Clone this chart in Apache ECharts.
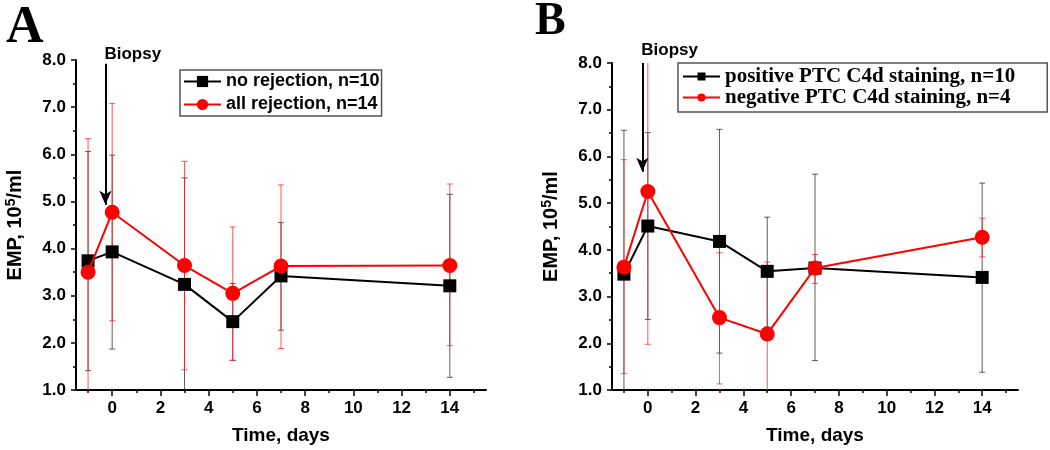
<!DOCTYPE html>
<html>
<head>
<meta charset="utf-8">
<script src="https://cdn.jsdelivr.net/npm/echarts@6/dist/echarts.min.js"></script>
<style>
html, body { margin: 0; padding: 0; background: #fff; }
#chart { width: 1050px; height: 450px; }
</style>
</head>
<body>
<div id="chart"></div>
<script>
// sampling days
const days = [-1, 0, 3, 5, 7, 14];
const majorDays = [0, 2, 4, 6, 8, 10, 12, 14];
const minorDays = [-1, 1, 3, 5, 7, 9, 11, 13, 15];

// panel A
const aNoRej = [3.74, 3.93, 3.24, 2.45, 3.42, 3.21];
const aNoRejLow = [1.41, 1.87, 0.98, 1.63, 2.27, 1.27];
const aNoRejHigh = [6.06, 5.98, 5.50, 3.26, 4.55, 5.15];
const aAllRej = [3.50, 4.77, 3.64, 3.05, 3.63, 3.64];
const aAllRejLow = [0.67, 2.47, 1.43, 1.63, 1.88, 1.94];
const aAllRejHigh = [6.33, 7.08, 5.85, 4.46, 5.35, 5.37];

// panel B
const bPos = [3.48, 4.51, 4.18, 3.54, 3.61, 3.41];
const bPosLow = [0.40, 2.51, 1.79, 2.35, 1.63, 1.38];
const bPosHigh = [6.56, 6.51, 6.58, 4.70, 5.62, 5.43];
const bNeg = [3.63, 5.25, 2.55, 2.20, 3.61, 4.27];
const bNegLow = [1.35, 1.98, 1.13, 0.66, 3.28, 3.85];
const bNegHigh = [5.93, 8.52, 3.94, 3.74, 3.90, 4.68];

// biopsy arrow: [x, top, bottom] per panel
const biopsyA = [-0.28, 7.92, 4.93];
const biopsyB = [-0.23, 8.0, 5.67];

const sans = 'Liberation Sans, Arial, sans-serif';
const serif = 'Liberation Serif, Times New Roman, serif';

function pairs(ys) { return days.map((d, i) => [d, ys[i]]); }
function bars(lo, hi) { return days.map((d, i) => [d, lo[i], hi[i]]); }

function errBar(color) {
  return function (params, api) {
    const x = api.value(0);
    const lo = api.coord([x, api.value(1)]);
    const hi = api.coord([x, api.value(2)]);
    const cap = 3;
    const style = { stroke: color, lineWidth: 1 };
    return {
      type: 'group',
      children: [
        { type: 'line', shape: { x1: lo[0], y1: lo[1], x2: hi[0], y2: hi[1] }, style: style },
        { type: 'line', shape: { x1: lo[0] - cap, y1: lo[1], x2: lo[0] + cap, y2: lo[1] }, style: style },
        { type: 'line', shape: { x1: hi[0] - cap, y1: hi[1], x2: hi[0] + cap, y2: hi[1] }, style: style }
      ]
    };
  };
}

function xAxes(grid) {
  return [
    {
      type: 'value', gridIndex: grid, position: 'bottom', min: -1.5, max: 15.5,
      axisLine: { onZero: false, lineStyle: { color: '#000', width: 2 } },
      axisTick: { customValues: majorDays, length: 6, lineStyle: { color: '#000', width: 1.5 } },
      axisLabel: { customValues: majorDays, color: '#000', fontWeight: 'bold', fontSize: 17, fontFamily: sans, margin: 10 },
      splitLine: { show: false },
      name: 'Time, days', nameLocation: 'middle', nameGap: 36,
      nameTextStyle: { color: '#000', fontWeight: 'bold', fontSize: 19, fontFamily: sans }
    },
    {
      type: 'value', gridIndex: grid, position: 'bottom', min: -1.5, max: 15.5,
      axisLine: { show: false, onZero: false },
      axisTick: { customValues: minorDays, length: 3, lineStyle: { color: '#000', width: 1.5 } },
      axisLabel: { show: false },
      splitLine: { show: false }
    }
  ];
}

function yAxis(grid) {
  return {
    type: 'value', gridIndex: grid, min: 1, max: 8, interval: 1,
    axisLine: { show: true, onZero: false, lineStyle: { color: '#000', width: 2 } },
    axisTick: { show: true, length: 5, lineStyle: { color: '#000', width: 1.5 } },
    minorTick: { show: true, splitNumber: 2, length: 3, lineStyle: { color: '#000', width: 1.5 } },
    axisLabel: { color: '#000', fontWeight: 'bold', fontSize: 17, fontFamily: sans, margin: 10,
      formatter: v => v.toFixed(1) },
    splitLine: { show: false },
    name: '{t|EMP, 10}{s|5}{t|/ml}', nameLocation: 'middle', nameGap: 50,
    nameTextStyle: {
      rich: {
        t: { color: '#000', fontWeight: 'bold', fontSize: 20, fontFamily: sans, lineHeight: 22 },
        s: { color: '#000', fontWeight: 'bold', fontSize: 14, fontFamily: sans, lineHeight: 22, verticalAlign: 'top', padding: [0, 0, 8, 0] }
      }
    }
  };
}

function arrow(b) {
  return {
    silent: true, symbol: ['none', 'arrow'], symbolSize: [9, 14],
    lineStyle: { color: '#000', width: 2, type: 'solid' },
    label: { show: false },
    data: [[{ coord: [b[0], b[1]] }, { coord: [b[0], b[2]] }]]
  };
}

const chart = echarts.init(document.getElementById('chart'), null, { renderer: 'canvas' });

const option = {
  animation: false,
  backgroundColor: '#fff',
  grid: [
    { left: 76, top: 60, width: 410, height: 331 },
    { left: 612, top: 63, width: 406, height: 331 }
  ],
  xAxis: xAxes(0).concat(xAxes(1)),
  yAxis: [yAxis(0), yAxis(1)],
  legend: [
    {
      orient: 'vertical', left: 180, top: 70,
      data: ['no rejection, n=10', 'all rejection, n=14'],
      itemWidth: 37, itemHeight: 14, itemGap: 4,
      padding: [2, 2, 2, 3],
      borderColor: '#555', borderWidth: 1.5,
      textStyle: { color: '#000', fontWeight: 'bold', fontSize: 18, fontFamily: sans, lineHeight: 19 }
    },
    {
      orient: 'vertical', left: 678, top: 63,
      data: ['positive PTC C4d staining, n=10', 'negative PTC C4d staining, n=4'],
      itemWidth: 37, itemHeight: 10, itemGap: 0,
      padding: [3, 32, 4, 4],
      borderColor: '#555', borderWidth: 1.5,
      textStyle: { color: '#000', fontWeight: 'bold', fontSize: 21, fontFamily: serif, lineHeight: 21 }
    }
  ],
  series: [
    { type: 'custom', xAxisIndex: 0, yAxisIndex: 0, clip: true, z: 1, silent: true,
      renderItem: errBar('rgba(40,40,40,0.75)'), encode: { x: 0, y: [1, 2] },
      data: bars(aNoRejLow, aNoRejHigh) },
    { type: 'custom', xAxisIndex: 0, yAxisIndex: 0, clip: true, z: 2, silent: true,
      renderItem: errBar('rgba(255,30,30,0.75)'), encode: { x: 0, y: [1, 2] },
      data: bars(aAllRejLow, aAllRejHigh) },
    { name: 'no rejection, n=10', type: 'line', xAxisIndex: 0, yAxisIndex: 0, z: 3,
      symbol: 'rect', symbolSize: 13, color: '#000',
      lineStyle: { color: '#000', width: 2 }, itemStyle: { color: '#000' },
      data: pairs(aNoRej), markLine: arrow(biopsyA) },
    { name: 'all rejection, n=14', type: 'line', xAxisIndex: 0, yAxisIndex: 0, z: 4,
      symbol: 'circle', symbolSize: 15, color: '#ff0000',
      lineStyle: { color: '#ff0000', width: 2 }, itemStyle: { color: '#ff0000' },
      data: pairs(aAllRej) },

    { type: 'custom', xAxisIndex: 2, yAxisIndex: 1, clip: true, z: 1, silent: true,
      renderItem: errBar('rgba(40,40,40,0.75)'), encode: { x: 0, y: [1, 2] },
      data: bars(bPosLow, bPosHigh) },
    { type: 'custom', xAxisIndex: 2, yAxisIndex: 1, clip: true, z: 2, silent: true,
      renderItem: errBar('rgba(255,30,30,0.75)'), encode: { x: 0, y: [1, 2] },
      data: bars(bNegLow, bNegHigh) },
    { name: 'positive PTC C4d staining, n=10', type: 'line', xAxisIndex: 2, yAxisIndex: 1, z: 3,
      symbol: 'rect', symbolSize: 13, color: '#000',
      lineStyle: { color: '#000', width: 2 }, itemStyle: { color: '#000' },
      data: pairs(bPos), markLine: arrow(biopsyB) },
    { name: 'negative PTC C4d staining, n=4', type: 'line', xAxisIndex: 2, yAxisIndex: 1, z: 4,
      symbol: 'circle', symbolSize: 15, color: '#ff0000',
      lineStyle: { color: '#ff0000', width: 2 }, itemStyle: { color: '#ff0000' },
      data: pairs(bNeg) }
  ]
};

chart.setOption(option);

// panel letters and "Biopsy" labels
const pA = chart.convertToPixel({ xAxisIndex: 0, yAxisIndex: 0 }, [biopsyA[0], biopsyA[1]]);
const pB = chart.convertToPixel({ xAxisIndex: 2, yAxisIndex: 1 }, [biopsyB[0], biopsyB[1]]);
chart.setOption({
  graphic: [
    { type: 'text', left: 6, top: 3, style: { text: 'A', font: 'bold 52px ' + serif, fill: '#000' } },
    { type: 'text', left: 535, top: -1, style: { text: 'B', font: 'bold 46px ' + serif, fill: '#000' } },
    { type: 'text', x: pA[0] - 1, y: pA[1] - 1, style: { text: 'Biopsy', font: 'bold 17px ' + sans, fill: '#000', verticalAlign: 'bottom' } },
    { type: 'text', x: pB[0] - 1, y: pB[1] - 4, style: { text: 'Biopsy', font: 'bold 17px ' + sans, fill: '#000', verticalAlign: 'bottom' } }
  ]
});
</script>
</body>
</html>
